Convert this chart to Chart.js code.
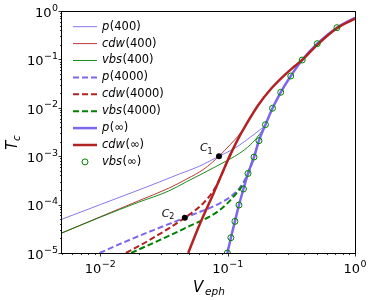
<!DOCTYPE html>
<html>
<head>
<meta charset="utf-8">
<script src="https://cdn.jsdelivr.net/npm/chart.js@4.4.1/dist/chart.umd.min.js"></script>
<style>
  html, body { margin: 0; padding: 0; background: #fff; }
  #wrap { width: 374px; height: 300px; }
</style>
</head>
<body>
<div id="wrap"><canvas id="tcChart" width="374" height="300"></canvas></div>
<script>
// x = V_eph, y = T_c
const p400X = [0.005, 0.01, 0.02, 0.0292, 0.0419, 0.06, 0.0855, 0.105, 0.124, 0.15, 0.179, 0.198, 0.225, 0.261, 0.313, 0.385, 0.505, 0.721, 1.0];
const p400Y = [5.0e-5, 1.0e-4, 2.0e-4, 2.95e-4, 4.3e-4, 6.2e-4, 1.0e-3, 1.3e-3, 1.7e-3, 2.45e-3, 3.5e-3, 4.48e-3, 9.8e-3, 0.0209, 0.0454, 0.097, 0.211, 0.452, 0.72];

const cdw400X = [0.005, 0.01, 0.02, 0.0343, 0.0479, 0.065, 0.0855, 0.105, 0.12, 0.136, 0.173, 0.221, 0.281, 0.337, 0.385, 0.505, 0.72, 1.0];
const cdw400Y = [2.6e-5, 5.6e-5, 1.2e-4, 2.17e-4, 3.4e-4, 5.4e-4, 1.0e-3, 1.75e-3, 2.55e-3, 4.0e-3, 0.0112, 0.0253, 0.048, 0.073, 0.098, 0.2, 0.44, 0.7];

const vbs400X = [0.005, 0.01, 0.02, 0.0343, 0.0479, 0.0855, 0.124, 0.15, 0.179, 0.198, 0.225, 0.261, 0.313, 0.385, 0.505, 0.721, 1.0];
const vbs400Y = [2.6e-5, 5.5e-5, 1.12e-4, 1.9e-4, 3.0e-4, 6.6e-4, 1.15e-3, 1.7e-3, 2.9e-3, 4.48e-3, 9.8e-3, 0.0209, 0.0454, 0.097, 0.211, 0.452, 0.72];

const p4000X = [0.00987, 0.0169, 0.0461, 0.0865, 0.105, 0.124, 0.1445, 0.161, 0.176];
const p4000Y = [1e-5, 1.86e-5, 5.37e-5, 1.06e-4, 1.45e-4, 2.2e-4, 4.4e-4, 9.6e-4, 2.09e-3];

const cdw4000X = [0.0159, 0.0244, 0.0461, 0.065, 0.082, 0.0977, 0.107];
const cdw4000Y = [1e-5, 1.86e-5, 5.37e-5, 1.1e-4, 2.5e-4, 7.1e-4, 1.2e-3];

const vbs4000X = [0.01746, 0.0479, 0.0865, 0.117, 0.14, 0.15, 0.161];
const vbs4000Y = [1e-5, 3.4e-5, 7.7e-5, 1.71e-4, 3.4e-4, 5.8e-4, 9.6e-4];

const pInfX = [0.0995, 0.106, 0.114, 0.1227, 0.133, 0.1445, 0.161, 0.176, 0.198, 0.225, 0.261, 0.313, 0.385, 0.505, 0.721, 1.0];
const pInfY = [1e-5, 2.07e-5, 4.5e-5, 9.8e-5, 2.1e-4, 4.4e-4, 9.6e-4, 2.09e-3, 4.48e-3, 9.8e-3, 0.0209, 0.0454, 0.097, 0.211, 0.452, 0.72];

const cdwInfX = [0.049, 0.060, 0.0766, 0.0977, 0.107, 0.124, 0.136, 0.173, 0.221, 0.281, 0.337, 0.385, 0.505, 0.72, 1.0];
const cdwInfY = [1e-5, 3.8e-5, 1.6e-4, 7.1e-4, 1.2e-3, 2.6e-3, 4.0e-3, 0.0112, 0.0253, 0.048, 0.073, 0.098, 0.2, 0.44, 0.7];

const vbsInfX = [0.0995, 0.106, 0.114, 0.1227, 0.133, 0.1445, 0.161, 0.176, 0.198, 0.225, 0.261, 0.313, 0.385, 0.505, 0.721];
const vbsInfY = [1e-5, 2.07e-5, 4.5e-5, 9.8e-5, 2.1e-4, 4.4e-4, 9.6e-4, 2.09e-3, 4.48e-3, 9.8e-3, 0.0209, 0.0454, 0.097, 0.211, 0.452];

// crossing points C1, C2
const crossX = [0.0855, 0.0461];
const crossY = [1.0e-3, 5.37e-5];
const crossNames = ['1', '2'];

const seriesLabels = ['p(400)', 'cdw(400)', 'vbs(400)', 'p(4000)', 'cdw(4000)', 'vbs(4000)', 'p(\u221e)', 'cdw(\u221e)', 'vbs(\u221e)'];

const xDecades = [-2, -1, 0];
const yDecades = [-5, -4, -3, -2, -1, 0];

const BLUE = '#7b68ee';
const RED = '#b22222';
const GREEN = '#008000';
const FONT = '"DejaVu Sans", sans-serif';

function pts(xs, ys) {
    return xs.map((x, i) => ({ x: x, y: ys[i] }));
}

function lineSet(label, xs, ys, color, width, dash) {
    return {
        label: label,
        data: pts(xs, ys),
        showLine: true,
        borderColor: color,
        borderWidth: width,
        borderDash: dash || [],
        pointRadius: 0,
        cubicInterpolationMode: 'monotone'
    };
}

const datasets = [
    lineSet(seriesLabels[0], p400X, p400Y, BLUE, 0.9),
    lineSet(seriesLabels[1], cdw400X, cdw400Y, RED, 0.9),
    lineSet(seriesLabels[2], vbs400X, vbs400Y, GREEN, 0.9),
    lineSet(seriesLabels[3], p4000X, p4000Y, BLUE, 2, [6, 3]),
    lineSet(seriesLabels[4], cdw4000X, cdw4000Y, RED, 2, [6, 3]),
    lineSet(seriesLabels[5], vbs4000X, vbs4000Y, GREEN, 2, [6, 3]),
    lineSet(seriesLabels[6], pInfX, pInfY, BLUE, 2.5),
    lineSet(seriesLabels[7], cdwInfX, cdwInfY, RED, 2.5),
    {
        label: seriesLabels[8],
        data: pts(vbsInfX, vbsInfY),
        showLine: false,
        pointStyle: 'circle',
        pointRadius: 3,
        pointBorderWidth: 1,
        pointBorderColor: GREEN,
        pointBackgroundColor: 'rgba(0,0,0,0)'
    },
    {
        label: 'crossings',
        data: pts(crossX, crossY),
        showLine: false,
        pointRadius: 3,
        pointBorderWidth: 0,
        pointBackgroundColor: '#000'
    }
];
// later series on top, like matplotlib
datasets.forEach((d, i) => { d.order = -i; });

function drawPow(ctx, exp, x, y, align) {
    // "10" with a raised exponent, y = vertical middle of "10"
    const base = '10';
    const sup = exp < 0 ? '\u2212' + Math.abs(exp) : String(exp);
    ctx.font = '13px ' + FONT;
    const wb = ctx.measureText(base).width;
    ctx.font = '9.5px ' + FONT;
    const ws = ctx.measureText(sup).width;
    const total = wb + ws + 0.5;
    let x0 = align === 'right' ? x - total : x - total / 2;
    ctx.textBaseline = 'alphabetic';
    ctx.textAlign = 'left';
    ctx.font = '13px ' + FONT;
    ctx.fillText(base, x0, y + 4.8);
    ctx.font = '9.5px ' + FONT;
    ctx.fillText(sup, x0 + wb + 0.5, y - 1.5);
}

const decorPlugin = {
    id: 'decor',
    afterDraw(chart) {
        const ctx = chart.ctx;
        const a = chart.chartArea;
        const xs = chart.scales.x, ys = chart.scales.y;
        ctx.save();
        ctx.fillStyle = '#000';
        ctx.strokeStyle = '#000';

        // frame
        ctx.lineWidth = 1;
        ctx.strokeRect(Math.round(a.left) - 0.5, Math.round(a.top) + 0.5,
            Math.round(a.right - a.left) + 1, Math.round(a.bottom - a.top));

        // ticks
        ctx.lineWidth = 0.8;
        ctx.beginPath();
        for (let d = -3; d <= 0; d++) {
            for (let m = 1; m <= 9; m++) {
                const v = m * Math.pow(10, d);
                if (v < xs.min * 0.999 || v > xs.max * 1.001) continue;
                const px = Math.round(xs.getPixelForValue(v)) + 0.5;
                const len = m === 1 ? 3.5 : 2;
                ctx.moveTo(px, a.bottom);
                ctx.lineTo(px, a.bottom + len);
            }
        }
        for (let d = -5; d <= 0; d++) {
            for (let m = 1; m <= 9; m++) {
                const v = m * Math.pow(10, d);
                if (v < ys.min * 0.999 || v > ys.max * 1.001) continue;
                const py = Math.round(ys.getPixelForValue(v)) + 0.5;
                const len = m === 1 ? 3.5 : 2;
                ctx.moveTo(a.left, py);
                ctx.lineTo(a.left - len, py);
            }
        }
        ctx.stroke();

        // tick labels
        xDecades.forEach(d => drawPow(ctx, d, xs.getPixelForValue(Math.pow(10, d)), a.bottom + 15, 'center'));
        yDecades.forEach(d => drawPow(ctx, d, a.left - 4, ys.getPixelForValue(Math.pow(10, d)) + 1, 'right'));

        // axis titles
        ctx.textAlign = 'left';
        ctx.textBaseline = 'alphabetic';
        ctx.font = 'italic 15px ' + FONT;
        ctx.fillText('V', 193, 292);
        ctx.font = 'italic 10.5px ' + FONT;
        ctx.fillText('eph', 205, 295);

        ctx.save();
        ctx.translate(17, 150);
        ctx.rotate(-Math.PI / 2);
        ctx.font = 'italic 15px ' + FONT;
        ctx.fillText('T', 0, 0);
        ctx.font = 'italic 10.5px ' + FONT;
        ctx.fillText('c', 9, 3);
        ctx.restore();

        // crossing labels
        const offs = [[-19, -5], [-23, -1]];
        crossX.forEach((cx, i) => {
            const px = xs.getPixelForValue(cx), py = ys.getPixelForValue(crossY[i]);
            ctx.font = 'italic 11px ' + FONT;
            ctx.fillText('C', px + offs[i][0], py + offs[i][1]);
            ctx.font = '8px ' + FONT;
            ctx.fillText(crossNames[i], px + offs[i][0] + 7.5, py + offs[i][1] + 2.5);
        });

        // legend
        const lx0 = 73, lx1 = 97, tx = 102, ry0 = 26.7, dy = 16.9;
        seriesLabels.forEach((lab, i) => {
            const ds = chart.data.datasets[i];
            const y = ry0 + i * dy;
            if (ds.showLine) {
                ctx.save();
                ctx.strokeStyle = ds.borderColor;
                ctx.lineWidth = ds.borderWidth;
                ctx.setLineDash(ds.borderDash);
                ctx.beginPath();
                ctx.moveTo(lx0, y);
                ctx.lineTo(lx1, y);
                ctx.stroke();
                ctx.restore();
            } else {
                ctx.save();
                ctx.strokeStyle = ds.pointBorderColor;
                ctx.lineWidth = 1;
                ctx.beginPath();
                ctx.arc((lx0 + lx1) / 2, y, 3, 0, Math.PI * 2);
                ctx.stroke();
                ctx.restore();
            }
            const k = lab.indexOf('(');
            const name = lab.slice(0, k), rest = lab.slice(k);
            ctx.textBaseline = 'middle';
            ctx.font = 'italic 11.5px ' + FONT;
            ctx.fillText(name, tx, y);
            const w = ctx.measureText(name).width;
            ctx.font = '11.5px ' + FONT;
            ctx.fillText(rest, tx + w + 0.5, y);
        });
        ctx.restore();
    }
};

new Chart(document.getElementById('tcChart').getContext('2d'), {
    type: 'scatter',
    data: { datasets: datasets },
    options: {
        responsive: false,
        animation: false,
        devicePixelRatio: 1,
        layout: { padding: { left: 62, top: 11, right: 19, bottom: 47 } },
        scales: {
            x: { type: 'logarithmic', min: 0.005, max: 1, display: false },
            y: { type: 'logarithmic', min: 1e-5, max: 1, display: false }
        },
        plugins: {
            legend: { display: false },
            tooltip: { enabled: false }
        }
    },
    plugins: [decorPlugin]
});
</script>
</body>
</html>
